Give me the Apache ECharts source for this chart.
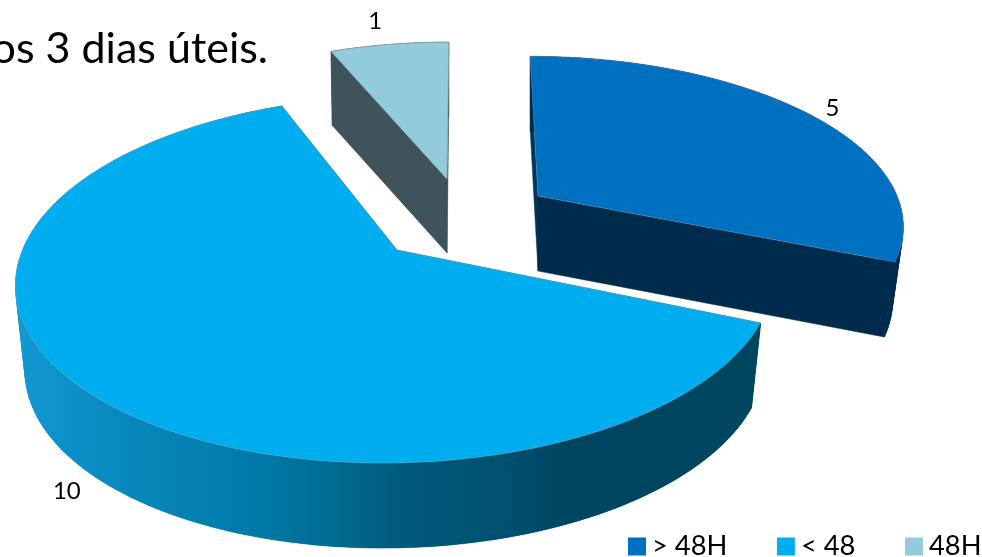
<!DOCTYPE html>
<html>
<head>
<meta charset="utf-8">
<style>html,body{margin:0;padding:0;background:#fff}#c{width:982px;height:557px}</style>
<script src="https://cdn.jsdelivr.net/npm/echarts@6/dist/echarts.min.js"></script>
</head>
<body>
<div id="c"></div>
<script>
const categories = ['> 48H', '< 48', '48H'];
const values = [5, 10, 1];
const titleFragment = 'os 3 dias úteis.';
const topColors = ['#0070c0', '#00aeef', '#92cbdc'];
const wallColors = ['#002b4d', null, '#3f535a'];
const startWallColors = ['#00355c', '#00465f', '#3f535a'];

// projection of each exploded slice: apex, radius, height, perspective, skew, lower-rim
const apexX = [538, 397, 447];
const apexY = [196, 250, 179];
const radiusX = [359, 374.5, 347];
const radiusY = [162, 179, 156];
const persp = [0.16, 0.16, 0.14];
const skew = [-9, 12, 2];
const depth = [75, 85, 74];
const lowerScale = [0.97, 0.975, 0.99];
const labelDX = [25, -22, -14];
const labelDY = [-5, 99, -23];

const total = values.reduce((a, b) => a + b, 0);

function project(i, angleDeg, r, lower) {
  const a = angleDeg * Math.PI / 180;
  const u = Math.sin(a) * r, v = Math.cos(a) * r;
  const s = 1 / (1 + persp[i] * v);
  const R = radiusX[i] * (lower ? lowerScale[i] : 1);
  return [
    apexX[i] + (R * u + skew[i] * v) * s,
    apexY[i] + (lower ? depth[i] : 0) - radiusY[i] * v * s
  ];
}

function renderSlice(params, api) {
  const i = params.seriesIndex;
  const val = api.value(0);
  let before = 0;
  for (let k = 0; k < i; k++) before += values[k];
  const a0 = before / total * 360;
  const a1 = (before + val) / total * 360;
  const mid = (a0 + a1) / 2;
  const top = [], low = [];
  const n = Math.max(4, Math.ceil((a1 - a0) / 1.5));
  for (let k = 0; k <= n; k++) {
    const a = a0 + (a1 - a0) * k / n;
    top.push(project(i, a, 1, false));
    low.push(project(i, a, 1, true));
  }
  const apexTop = project(i, 0, 0, false);
  const apexLow = project(i, 0, 0, true);
  const sideFill = wallColors[i] || {
    type: 'linear', x: 15, y: 0, x2: 765, y2: 0, global: true,
    colorStops: [
      { offset: 0, color: '#1298d2' },
      { offset: 0.16, color: '#0787ba' },
      { offset: 0.32, color: '#007aa9' },
      { offset: 0.42, color: '#006c92' },
      { offset: 0.52, color: '#005a7c' },
      { offset: 0.66, color: '#004f6e' },
      { offset: 0.74, color: '#00455f' },
      { offset: 1, color: '#00465f' }
    ]
  };
  const edge = i === 2 ? 'rgba(150,165,175,0.8)' : 'rgba(150,175,190,0.35)';
  const poly = (points, fill, stroke) => ({
    type: 'polygon', silent: true,
    shape: { points },
    style: { fill, stroke: stroke || fill, lineWidth: stroke ? 1 : 0.5 }
  });
  const labelPt = project(i, mid, 1, false);
  const children = [
    poly([top[0], apexTop, apexLow, low[0]], startWallColors[i]),
    poly([top[n], apexTop, apexLow, low[n]], wallColors[i] || '#00465f')
  ];
  // swept quads give the straight tangent silhouette at the rim's extremes
  for (let k = 0; k < n; k++) {
    children.push(poly([top[k], top[k + 1], low[k + 1], low[k]], sideFill));
  }
  // one smooth wall over the quads hides their seams
  children.push({
    type: 'polygon', silent: true,
    shape: { points: top.concat(low.slice().reverse()) },
    style: { fill: sideFill, lineWidth: 0 }
  });
  children.push(poly(top.concat([apexTop]), api.visual('color'), edge));
  children.push({
    type: 'text', silent: true,
    style: {
      x: labelPt[0] + labelDX[i], y: labelPt[1] + labelDY[i],
      text: String(val), fill: '#000',
      font: '24px Lato', align: 'center', verticalAlign: 'middle'
    }
  });
  return { type: 'group', children };
}

const chart = echarts.init(document.getElementById('c'), null, { renderer: 'canvas' });
chart.setOption({
  animation: false,
  backgroundColor: '#fff',
  legend: {
    left: 628, top: 533, width: 500, itemWidth: 18, itemHeight: 18, itemGap: 49.6,
    icon: 'rect', data: categories, selectedMode: false, padding: 0,
    itemStyle: { borderWidth: 0 },
    textStyle: { fontFamily: 'Lato', fontSize: 27.3, color: '#000', padding: [0, 0, 0, 1] }
  },
  graphic: [{
    type: 'text', silent: true, x: 268, y: 71,
    style: {
      text: titleFragment, fill: '#000', font: '43px Lato',
      align: 'right', verticalAlign: 'bottom'
    }
  }],
  series: categories.map((name, i) => ({
    type: 'custom', name, coordinateSystem: 'none',
    itemStyle: { color: topColors[i] },
    renderItem: renderSlice,
    data: [[values[i]]],
    z: i === 1 ? 3 : 2
  }))
});
</script>
</body>
</html>
